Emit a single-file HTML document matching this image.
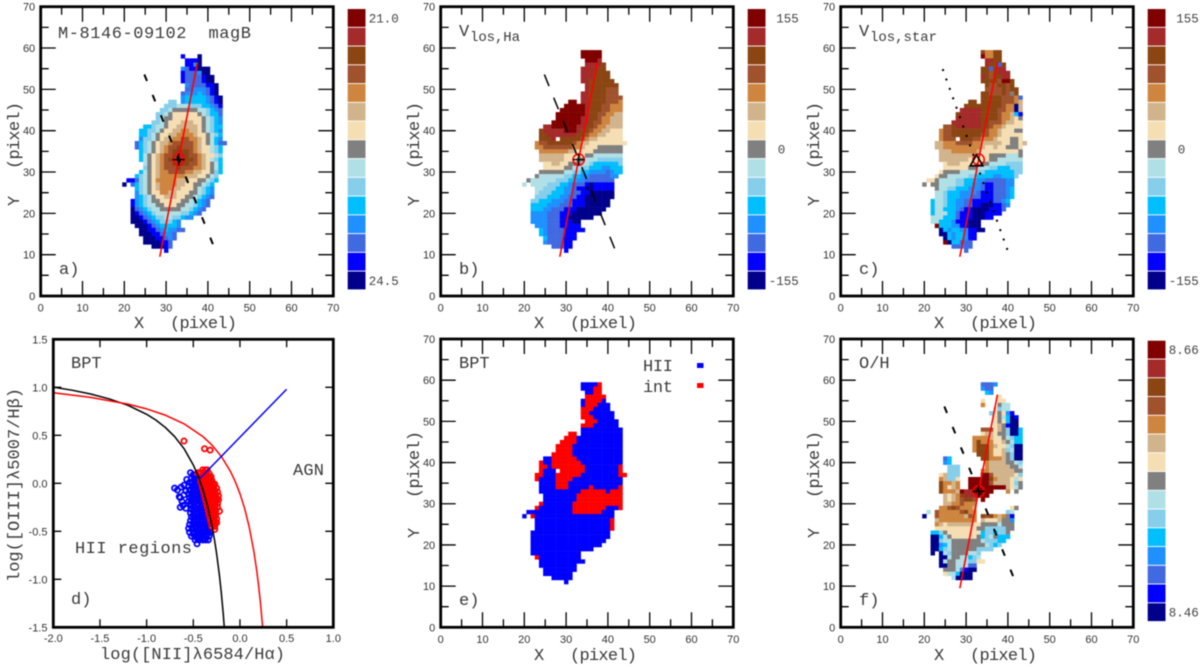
<!DOCTYPE html>
<html lang="en">
<head>
<meta charset="utf-8">
<title>M-8146-09102 maps</title>
<style>
html,body{margin:0;padding:0;background:#fff;width:1200px;height:667px;overflow:hidden}
svg{display:block;filter:blur(0.45px)}
.tick{font-family:"Liberation Sans",sans-serif;font-size:11px;fill:#333}
.mono{font-family:"Liberation Mono",monospace;font-size:17px;fill:#3a3a3a;white-space:pre}
.cbl{font-family:"Liberation Mono",monospace;font-size:12.5px;fill:#444;white-space:pre}
.sub{font-family:"Liberation Mono",monospace;font-size:14px;fill:#3a3a3a}
.greek{font-family:"Liberation Mono","DejaVu Sans Mono",monospace}
</style>
</head>
<body>
<svg id="figure" xmlns="http://www.w3.org/2000/svg" width="1200" height="667" viewBox="0 0 1200 667">
  <rect x="0" y="0" width="1200" height="667" fill="#fff"/>
  <g id="marks"></g>
  <g id="frames"></g>

  <text class="mono" x="58" y="38" textLength="193">M-8146-09102  magB</text>
  <text class="mono" x="59" y="274">a)</text>
  <text class="mono" x="134" y="328">X</text>
  <text class="mono" x="170" y="328" textLength="67">(pixel)</text>
  <text class="mono" transform="translate(19,206) rotate(-90)">Y</text>
  <text class="mono" transform="translate(19,169) rotate(-90)" textLength="67">(pixel)</text>

  <text class="mono" x="459" y="36">V</text>
  <text class="sub" x="470" y="41" textLength="50">los,Ha</text>
  <text class="mono" x="459" y="274">b)</text>
  <text class="mono" x="534" y="328">X</text>
  <text class="mono" x="570" y="328" textLength="67">(pixel)</text>
  <text class="mono" transform="translate(419,206) rotate(-90)">Y</text>
  <text class="mono" transform="translate(419,169) rotate(-90)" textLength="67">(pixel)</text>

  <text class="mono" x="859" y="36">V</text>
  <text class="sub" x="870" y="41" textLength="67">los,star</text>
  <text class="mono" x="859" y="274">c)</text>
  <text class="mono" x="934" y="328">X</text>
  <text class="mono" x="970" y="328" textLength="67">(pixel)</text>
  <text class="mono" transform="translate(819,206) rotate(-90)">Y</text>
  <text class="mono" transform="translate(819,169) rotate(-90)" textLength="67">(pixel)</text>

  <text class="mono" x="71" y="368">BPT</text>
  <text class="mono" x="293" y="475" textLength="31">AGN</text>
  <text class="mono" x="75" y="553" textLength="117">HII regions</text>
  <text class="mono" x="71" y="604">d)</text>
  <text class="mono greek" x="100" y="659" textLength="185">log([NII]λ6584/Hα)</text>
  <text class="mono greek" transform="translate(19,582) rotate(-90)" textLength="194">log([OIII]λ5007/Hβ)</text>

  <text class="mono" x="459" y="368">BPT</text>
  <text class="mono" x="643" y="371" textLength="30">HII</text>
  <text class="mono" x="643" y="392" textLength="30">int</text>
  <rect x="697" y="363" width="6.5" height="5" fill="#0000ff"/>
  <rect x="697" y="383" width="6.5" height="5" fill="#ff0000"/>
  <text class="mono" x="459" y="605">e)</text>
  <text class="mono" x="534" y="660">X</text>
  <text class="mono" x="570" y="660" textLength="67">(pixel)</text>
  <text class="mono" transform="translate(419,538) rotate(-90)">Y</text>
  <text class="mono" transform="translate(419,498) rotate(-90)" textLength="67">(pixel)</text>

  <text class="mono" x="859" y="368">O/H</text>
  <text class="mono" x="859" y="605">f)</text>
  <text class="mono" x="934" y="660">X</text>
  <text class="mono" x="970" y="660" textLength="67">(pixel)</text>
  <text class="mono" transform="translate(819,538) rotate(-90)">Y</text>
  <text class="mono" transform="translate(819,498) rotate(-90)" textLength="67">(pixel)</text>
</svg>

<script>
// ---- colour levels (a = top of colour bar, o = bottom) ----
const levelCodes = "abcdefghijklmno";
const levelColors = ["#800000","#a52a2a","#8b4513","#a0522d","#cd853f","#d2b48c","#f5deb3","#808080","#b0e0e6","#87ceeb","#00bfff","#1e90ff","#4169e1","#0000ff","#00008b"];

// ---- map data: [map y, first map x, level code per cell ('.' = empty)] ----
const magBRows = [
[58,34,"n...o"],[57,35,"nnno"],[56,35,"nnlo"],[55,34,"lmnnooo"],[54,34,"nmmmloo"],[53,34,"nmmmmnoo"],[52,34,"nmmmmnoo"],
[51,35,"lmmmmnno"],[50,35,"mmlllmno"],[49,34,"mlllklmno"],[48,34,"lkkkkklmno"],[47,31,"jj.lkkkkklmno"],[46,30,"jjjiiijjjkklmn"],
[45,29,"jjihhhhhhiijklm"],[44,28,"jjihgggggghijkkm"],[43,28,"jihhggggggghijkl"],[42,27,"jjihgggfffgghijkl"],[41,25,"kkjiihggfffffghijkk"],
[40,24,"kkjjihggffeeffghijkl"],[39,24,"kkjihggffeeeefgghijk"],[38,24,"ljjihgffeeddeefghikl"],[37,23,"mkjihgffedddddefghikmm"],
[36,23,"mkjihgfeddcdddefggijk"],[35,24,"kjihgfedcbccdefggijk"],[34,24,"kihgfeddcbbcddefggij"],[33,24,"kihgfedccabccdefgijk"],
[32,25,"ihgfeddcbccddefghik"],[31,25,"jhgfedddcdddeefghik"],[30,24,"kihgfeeddddeeffgghjk"],[29,23,"kjihgfeeeeeefffgghij"],
[28,21,"nnmjihgeeeeefffgghhijk"],[27,20,"o.mkjihgfeeeeffgghhijk"],[26,23,"kjihgfeeeffggghijkl"],[25,23,"ljihggeeffggghhijkl"],
[24,23,"lkjihggfffgghhijklm"],[23,22,"nlkjihhggggghhijklm"],[22,22,"nlkjiihhggghhiijklm"],[21,22,"omlkjiihhhhhiijklm"],
[20,22,"onmlkjiiiiiijjklm"],[19,22,"oonmlkjjiijjkll"],[18,22,"ooonmlkjjjkl"],[17,23,"ooonmlkkkkl"],[16,24,"oonnmlkllmm"],
[15,24,"ooonnmllm"],[14,25,"ooonnmlm"],[13,25,"oooonnm"],[12,27,"ooonm"],[11,30,"n"]
];
const velGasRows = [
[59,34,"aaaaa"],[58,34,"aaaaa"],[57,35,"aaab"],[56,35,"bbbbc"],[55,34,"bbbbcc"],[54,34,"bbbcccc"],[53,34,"bbbcccc"],[52,34,"bbcccccc"],
[51,35,"bccccccc"],[50,35,"bccccddd"],[49,34,"bbccccddd"],[48,34,"bbccccdddd"],[47,31,"aa.bbccccddde"],[46,30,"aaaaabcccddeee"],
[45,29,"aaaaaabcccddeee"],[44,28,"aaaaaaabccddeeff"],[43,28,"aaaaaabbccdeefff"],[42,27,"aaaaaaabbcddeefff"],[41,25,"bbaaaaaabbccdeeffff"],
[40,24,"cbbbbbaaabccdeeffggg"],[39,24,"ccbbbbbbbccdeeffgggg"],[38,24,"cccb.cccccdeffgggggg"],[37,23,"eddccccccdeffggggggggg"],
[36,23,"eedddddddeefggghhhhhh"],[35,24,"eeeeeeeffgggghhhhhhh"],[34,24,"ffffffggggghhiiiiiii"],[33,24,"ffffffggghhiiijjjjjj"],
[32,25,"ggffgghhhiijkkkkkkj"],[31,25,"ggggghhiijjkkkllkkk"],[30,24,"hhhhhhiijjkkllllmlkk"],[29,23,"hiiiiiijjkkllmmmmmll"],
[28,21,"hiiiiiijjjkkllmmmmmmm"],[27,20,"i.iiiijjjkklmmmnonnnnn"],[26,23,"iijjjkkllmnnoonnnnn"],[25,23,"ijjjkkkllmmnnoooooo"],
[24,23,"jjjkkkllmmnnooooooo"],[23,22,"jjkkklllmmnnnoooooo"],[22,22,"kkkklllmmmnnnoooooo"],[21,22,"kkkllmmmnnnooooooo"],
[20,22,"llllmmmnnnooooooo"],[19,22,"llllmmmnnoooooo"],[18,22,"llllmmmnnnoo"],[17,23,"lllmmmnnnnn"],[16,24,"klmmmmnnnnn"],
[15,24,"klmmmmnnn"],[14,25,"kmmmmnnn"],[13,25,"lmmmmnn"],[12,27,"mmmnn"],[11,30,"n"]
];
const velStarRows = [
[59,34,"ceecc"],[58,34,"aeecc"],[57,35,"bbcc"],[56,35,"bccmc"],[55,34,"ccmcbb"],[54,34,"ccdcbbb"],[53,34,"bcdccbb"],[52,34,"ccccdaac"],
[51,35,"cddccdc"],[50,35,"ddddcdcc"],[49,34,"ccdddcdhc"],[48,34,"cccccdddem"],[47,31,"cc.cccccdddef"],[46,30,"cccccccccdeeof"],
[45,29,"bbbbbccccddeeof"],[44,28,"cbbbbbccccdeefkn"],[43,28,"bbbbbbccccdeefgh"],[42,27,"bbbbbbbccdddeffgg"],[41,25,"ddcbbbbbbccdeefgggg"],
[40,24,"eddccccccccdeefggghh"],[39,24,"eddcccccccddeefggggg"],[38,24,"eddd.cccddeeefggghhg"],[37,23,"ffeeeddddeefffffgghhgf"],
[36,23,"ffeeeeeeeeefggfgghhhg"],[35,24,"fffeeeeeefgggggggggh"],[34,24,"fffffffffggghhhhiiih"],[33,24,"fffffffggggghhiiiiii"],
[32,25,"gfffggggghhiiiijjjj"],[31,25,"gggggghhiiijjkkkjjj"],[30,24,"ghhhhiiiijjkkkkkkkjj"],[29,23,"ghhiiiiijjkkkkllkkkj"],
[28,21,"gghiiiijjkkkllmmmmmll"],[27,20,"h.hhiiiijjkkllmnnmmmll"],[26,23,"hiijjkkklllmnnmmmlk"],[25,23,"iijkkkllllmnnnmmmlk"],
[24,23,"iijkkklllmmnnnmmmlk"],[23,22,"kiijkkllmmnnnnnmmlk"],[22,22,"kiijkkllmmnnooonnml"],[21,22,"kiikkklmnnoooonnnm"],
[20,22,"kiiikkmnnnooonnnn"],[19,22,"iiikkkmnnnooonn"],[18,22,"iikkklnnnooo"],[17,23,"akkkllnnooo"],[16,24,"oklkkllnnoo"],
[15,24,"ooklkklnn"],[14,25,"oklkklnn"],[13,25,"aokkmmm"],[12,27,"mmlmm"],[11,30,"m"]
];
const oxygenRows = [
[59,34,"mmml"],[58,34,"lmm"],[57,35,"kl"],[56,38,"g"],[55,34,"g...gg"],[54,34,"e...hii"],[53,37,"gjii"],[52,36,"jghgln"],[51,37,"ghikon"],
[50,37,"ghgkoo"],[49,37,"gfhnoo"],[48,34,"dddgfhjook"],[47,34,"gffghhjook"],[46,32,"eeeefgghijkk"],[45,32,"eceeeggfhikk"],[44,32,"ecccefggijoo"],
[43,32,"eccceggfjioo"],[42,33,"ccceggfhjoo"],[41,25,"mk.......cceeefhjoo"],[40,25,"lk........effffhhij"],[39,26,"jjj......efffffhhi"],
[38,26,"jjj.....eeffffffhh"],[37,24,"gfjjj.....aadfffffgj"],[36,24,"efjjg..aaaaacefffgig"],[35,24,"ceefe..aaaaadffffgjh"],[34,24,"cegfe..aaaaaaaaafgih"],
[33,24,"ceeefabbaaaaa...e.h"],[32,25,"fgfecbbbaaa"],[31,25,"fgfedccd.a"],[30,25,"ffeedeee"],[29,24,"eedcdeeef........gh"],[28,21,"i.deeeeedcee.......ji"],
[27,20,"o..deeeeeefde.cdcefehn"],[26,23,"feeeeeeeee.fgggfhhl"],[25,23,"efgffffffgghhhhihhh"],[24,23,"gggggggggghhjjjjjhh"],[23,22,"kkjhggggggggkjjkjjh"],
[22,22,"ookihgggggghkjihkkk"],[21,22,"oojiihhhhhhhijjjkk"],[20,22,"oolkihhhhhhhhijkj"],[19,22,"ookjihhhhhhjjjj"],[18,22,"o.oijhhhhiij"],
[17,24,"ooihhiikji"],[16,24,"oihhiiijjgg"],[15,24,"oohhiiimm"],[14,25,"hhhilnoo"],[13,25,"giikooo"],[12,27,"ioooo"]
];
// B = HII, R = intermediate
const bptClassRows = [
[59,34,"BBBBR"],[58,34,"BBBRR"],[57,35,"BBRR"],[56,35,"RRRRR"],[55,34,"BRRRRB"],[54,34,"BRRRBBB"],[53,34,"RRRBBBB"],[52,34,"RRBBBBBB"],[51,34,"RRRBBBBB"],
[50,35,"RRRBBBBB"],[49,34,"RRRBBBBBB"],[48,34,"BBBBBBBBBB"],[47,31,"RR.BBBBBBBBBB"],[46,30,"RRRBBBBBBBBBBB"],[45,29,"RRRRBBBBBBBBBBB"],
[44,28,"RRRRBBBBBBBBBBBB"],[43,28,"RRRRBBBBBBBBBBBB"],[42,27,"RRRRRBBBBBBBBBBBB"],[41,25,"BBRRRRRRBBBBBBBBBBB"],[40,24,"RBBRRRRRRRBBBBBBBBBB"],
[39,24,"RRBRRRRRRRRBBBBBBBBR"],[38,24,"RBBB.RRRRRRBBBBBBBBR"],[37,23,"RRBBBRRRRRRBBBBBBBBBRR"],[36,23,"RBBBBRRRRBBBBBBBBBBBB"],[35,24,"BBBBRRRBBBBBBBBBBBBB"],
[34,24,"BBBBRRRBBBBBRBBBBBBR"],[33,24,"BBBBBBBBBBRRRRRRBRRR"],[32,25,"BBBBBBBBRRRRRRRRRRR"],[31,25,"BBBBBBBBRRRRRRRRRRR"],[30,24,"RBBBBBBBRRRRRRRRRRRR"],
[29,23,"RBBBBBBBBRRRRRRRRBBBR"],[28,21,"BBBBBBBBBBBRRRRRRRBBB"],[27,20,"B.RBBBBBBBBBBBBBBBBBBB"],[26,23,"BBBBBBBBBBBBBBBBBBR"],[25,23,"BBBBBBBBBBBBBBBBBBR"],
[24,23,"BBBBBBBBBBBBBBBBBBR"],[23,22,"BBBBBBBBBBBBBBBBBBB"],[22,22,"BBBBBBBBBBBBBBBBBBB"],[21,22,"BBBBBBBBBBBBBBBBBB"],[20,22,"BBBBBBBBBBBBBBBBB"],
[19,22,"BBBBBBBBBBBBBBB"],[18,22,"BBBBBBBBBBBB"],[17,23,"RBBBBBBBBBB"],[16,24,"BBBBBBBBBBB"],[15,24,"BBBBBBBBB"],[14,25,"BBBBBBBB"],[13,25,"BBBBBBB"],[12,27,"BBBBB"],[11,30,"B"]
];
const bptClassCodes = "BR";
const bptClassColors = ["#0000ff","#ff0000"];

// ---- BPT diagram data ----
const hiiPoints = [
[-0.70,-0.05],[-0.67,-0.07],[-0.65,-0.14],[-0.64,-0.15],[-0.63,-0.04],[-0.64,-0.25],[-0.60,-0.02],[-0.60,-0.12],[-0.62,-0.19],[-0.57,0.04],[-0.53,0.11],[-0.58,-0.26],[-0.61,-0.23],[-0.58,-0.08],
[-0.50,0.09],[-0.47,0.09],[-0.52,0.05],[-0.49,0.05],[-0.45,0.05],[-0.54,0.01],[-0.51,0.01],[-0.47,0.01],[-0.44,0.01],
[-0.55,-0.03],[-0.51,-0.03],[-0.47,-0.03],[-0.43,-0.03],[-0.54,-0.07],[-0.50,-0.07],[-0.46,-0.07],[-0.42,-0.07],
[-0.55,-0.11],[-0.51,-0.11],[-0.47,-0.11],[-0.43,-0.11],[-0.40,-0.11],[-0.54,-0.15],[-0.50,-0.15],[-0.46,-0.15],[-0.42,-0.15],[-0.39,-0.15],
[-0.55,-0.19],[-0.51,-0.19],[-0.47,-0.19],[-0.43,-0.19],[-0.39,-0.19],[-0.53,-0.23],[-0.49,-0.23],[-0.45,-0.23],[-0.41,-0.23],[-0.37,-0.23],
[-0.52,-0.27],[-0.48,-0.27],[-0.44,-0.27],[-0.40,-0.27],[-0.36,-0.27],[-0.53,-0.31],[-0.49,-0.31],[-0.45,-0.31],[-0.41,-0.31],[-0.37,-0.31],[-0.35,-0.31],
[-0.52,-0.35],[-0.48,-0.35],[-0.44,-0.35],[-0.40,-0.35],[-0.36,-0.35],[-0.53,-0.39],[-0.49,-0.39],[-0.45,-0.39],[-0.41,-0.39],[-0.37,-0.39],[-0.34,-0.39],
[-0.54,-0.43],[-0.50,-0.43],[-0.46,-0.43],[-0.42,-0.43],[-0.38,-0.43],[-0.34,-0.43],[-0.55,-0.47],[-0.51,-0.47],[-0.47,-0.47],[-0.43,-0.47],[-0.39,-0.47],[-0.35,-0.47],[-0.32,-0.47],
[-0.54,-0.51],[-0.50,-0.51],[-0.46,-0.51],[-0.42,-0.51],[-0.38,-0.51],[-0.34,-0.51],[-0.32,-0.51],[-0.52,-0.55],[-0.48,-0.55],[-0.44,-0.55],[-0.40,-0.55],[-0.36,-0.55],[-0.33,-0.55],
[-0.48,-0.59],[-0.44,-0.59],[-0.40,-0.59],[-0.37,-0.59],[-0.34,-0.59],[-0.46,-0.63],
[-0.49,0.03],[-0.45,-0.01],[-0.49,-0.05],[-0.45,-0.09],[-0.52,-0.13],[-0.48,-0.13],[-0.44,-0.13],[-0.41,-0.17],[-0.49,-0.17],[-0.53,-0.21],[-0.45,-0.21],
[-0.50,-0.25],[-0.42,-0.25],[-0.46,-0.29],[-0.38,-0.29],[-0.50,-0.33],[-0.42,-0.33],[-0.46,-0.37],[-0.38,-0.37],[-0.50,-0.41],[-0.42,-0.41],[-0.36,-0.41],
[-0.48,-0.45],[-0.40,-0.45],[-0.44,-0.49],[-0.36,-0.49],[-0.50,-0.53],[-0.42,-0.53],[-0.35,-0.53],[-0.46,-0.57],[-0.38,-0.57]
];
const intPoints = [
[-0.60,0.44],[-0.38,0.36],[-0.32,0.345],
[-0.40,0.14],[-0.37,0.14],[-0.35,0.14],[-0.45,0.11],[-0.42,0.11],[-0.39,0.11],[-0.36,0.11],[-0.33,0.10],
[-0.42,0.07],[-0.38,0.07],[-0.34,0.07],[-0.31,0.07],[-0.42,0.03],[-0.38,0.03],[-0.34,0.03],[-0.30,0.03],
[-0.41,-0.01],[-0.37,-0.01],[-0.33,-0.01],[-0.29,-0.01],[-0.27,-0.01],[-0.40,-0.05],[-0.36,-0.05],[-0.32,-0.05],[-0.28,-0.05],[-0.25,-0.05],
[-0.39,-0.09],[-0.35,-0.09],[-0.31,-0.09],[-0.27,-0.09],[-0.24,-0.09],[-0.38,-0.13],[-0.34,-0.13],[-0.30,-0.13],[-0.26,-0.13],[-0.23,-0.13],
[-0.37,-0.17],[-0.33,-0.17],[-0.29,-0.17],[-0.25,-0.17],[-0.23,-0.17],[-0.36,-0.21],[-0.32,-0.21],[-0.28,-0.21],[-0.24,-0.21],
[-0.35,-0.25],[-0.31,-0.25],[-0.27,-0.25],[-0.24,-0.25],[-0.34,-0.29],[-0.30,-0.29],[-0.26,-0.29],[-0.22,-0.29],
[-0.33,-0.33],[-0.29,-0.33],[-0.26,-0.33],[-0.32,-0.37],[-0.28,-0.37],[-0.25,-0.37],[-0.31,-0.41],[-0.27,-0.41],[-0.25,-0.41],
[-0.30,-0.45],[-0.27,-0.45],[-0.27,-0.48],
[-0.40,0.05],[-0.36,0.05],[-0.32,0.05],[-0.39,0.01],[-0.35,0.01],[-0.31,0.01],[-0.38,-0.03],[-0.34,-0.03],[-0.30,-0.03],[-0.37,-0.07],[-0.33,-0.07],[-0.29,-0.07],
[-0.36,-0.11],[-0.32,-0.11],[-0.28,-0.11],[-0.35,-0.15],[-0.31,-0.15],[-0.27,-0.15],[-0.34,-0.19],[-0.30,-0.19],[-0.26,-0.19],[-0.33,-0.23],[-0.29,-0.23],
[-0.32,-0.27],[-0.28,-0.27],[-0.31,-0.31],[-0.27,-0.31],[-0.30,-0.35],[-0.27,-0.35],[-0.29,-0.39],[-0.28,-0.43]
];
const kauffmannX = [-2,-1.8,-1.6,-1.4,-1.2,-1,-0.9,-0.8,-0.7,-0.6,-0.5,-0.45,-0.4,-0.35,-0.3,-0.27,-0.25,-0.22,-0.2,-0.18,-0.168];
const kauffmannY = [1.002,0.97,0.93,0.879,0.812,0.719,0.658,0.582,0.487,0.362,0.191,0.08,-0.056,-0.225,-0.443,-0.606,-0.733,-0.959,-1.14,-1.352,-1.5];
const kewleyX = [-2,-1.6,-1.2,-1,-0.8,-0.6,-0.4,-0.3,-0.2,-0.1,-0.05,0,0.05,0.1,0.15,0.18,0.2,0.22,0.243];
const kewleyY = [0.943,0.895,0.825,0.775,0.71,0.62,0.489,0.398,0.28,0.12,0.017,-0.108,-0.262,-0.459,-0.716,-0.913,-1.069,-1.25,-1.5];
const agnLineX = [-0.43,0.5];
const agnLineY = [0.05,0.98];

// ---- map overlay data ----
const majorAxisX = [28.5,37.5];
const majorAxisY = [9.5,56.5];
const minorAxisX = [24.8,42];
const minorAxisY = [53.6,10.5];
const starMinorAxisX = [24.4,40.4];
const starMinorAxisY = [54.9,9.7];
const centreX = [33];
const centreY = [33];
const starCentreX = [32.5];
const starCentreY = [32.7];

// ---- tick labels ----
const mapTicks = [0,10,20,30,40,50,60,70];
const mapMinorTicks = [5,15,25,35,45,55,65];
const bptXTicks = ["-2.0","-1.5","-1.0","-0.5","0.0","0.5","1.0"];
const bptYTicks = ["-1.5","-1.0","-0.5","0.0","0.5","1.0","1.5"];
const colorbarLabelsA = ["21.0","24.5"];
const colorbarLabelsV = ["155","0","-155"];
const colorbarLabelsO = ["8.66","8.46"];

const NS = "http://www.w3.org/2000/svg";
const marks = document.getElementById("marks");
const frames = document.getElementById("frames");

function make(tag, parent, attrs) {
  const el = document.createElementNS(NS, tag);
  for (const k in attrs) el.setAttribute(k, attrs[k]);
  parent.appendChild(el);
  return el;
}
function linear(d0, d1, r0, r1) {
  return function (v) { return r0 + (v - d0) / (d1 - d0) * (r1 - r0); };
}
function mapPanel(key, left, bottom, top) {
  return {
    key: key, left: left, right: left + 292.6, bottom: bottom, top: top,
    x: linear(0, 70, left, left + 292.6),
    y: linear(0, 70, bottom, top)
  };
}
const panelA = mapPanel("a", 40.7, 296, 6.7);
const panelB = mapPanel("b", 440.7, 296, 6.7);
const panelC = mapPanel("c", 840.7, 296, 6.7);
const panelE = mapPanel("e", 440.7, 627.3, 339);
const panelF = mapPanel("f", 840.7, 627.3, 339);
const panelD = {
  key: "d", left: 53.3, right: 333.3, bottom: 627.3, top: 339.3,
  x: linear(-2, 1, 53.3, 333.3),
  y: linear(-1.5, 1.5, 627.3, 339.3)
};

function drawHeatmap(rows, panel, codes, colors) {
  const g = make("g", marks, {});
  
  
  rows.forEach(function (row) {
    const cells = row[2];
    for (let i = 0; i < cells.length; i++) {
      const idx = codes.indexOf(cells[i]);
      if (idx < 0) continue;
      const cx = row[1] + i;
      const x0 = panel.x(cx - 0.5), x1 = panel.x(cx + 0.5);
      const y0 = panel.y(row[0] + 0.5), y1 = panel.y(row[0] - 0.5);
      const r = make("rect", g, { x: x0, y: y0, width: x1 - x0 + 0.25, height: y1 - y0 + 0.25, fill: colors[idx] });
      
      
    }
  });
}
function pointsAttr(xs, ys, panel) {
  return xs.map(function (v, i) { return panel.x(v).toFixed(2) + "," + panel.y(ys[i]).toFixed(2); }).join(" ");
}
function drawAxisLines(panel, minorX, minorY, dash, width) {
  const minor = make("polyline", marks, { points: pointsAttr(minorX, minorY, panel), fill: "none", stroke: "#000", "stroke-width": width, "stroke-dasharray": dash });
  
  
  const major = make("polyline", marks, { points: pointsAttr(majorAxisX, majorAxisY, panel), fill: "none", stroke: "#ff0000", "stroke-width": 1.6 });
  
  
}
function drawCentre(panel, withCross) {
  const cx = panel.x(centreX[0]), cy = panel.y(centreY[0]);
  const c = make("circle", marks, { cx: cx, cy: cy, r: 5.6, fill: "none", stroke: "#ff0000", "stroke-width": 1.5 });
  
  
  if (withCross) {
    const p = make("path", marks, { d: "M" + (cx - 6) + " " + cy + "H" + (cx + 6) + "M" + cx + " " + (cy - 6) + "V" + (cy + 6), stroke: "#000", "stroke-width": 1.3, fill: "none" });
    
    
  }
}
function drawFrame(panel) {
  const f = make("rect", frames, { x: panel.left, y: panel.top, width: panel.right - panel.left, height: panel.bottom - panel.top, fill: "none", stroke: "#000", "stroke-width": 2.8 });
  
  
}
function tickPath(panel, xs, ys, len) {
  let d = "";
  xs.forEach(function (v) {
    const p = panel.x(v);
    d += "M" + p + " " + panel.bottom + "V" + (panel.bottom - len) + "M" + p + " " + panel.top + "V" + (panel.top + len);
  });
  ys.forEach(function (v) {
    const p = panel.y(v);
    d += "M" + panel.left + " " + p + "H" + (panel.left + len) + "M" + panel.right + " " + p + "H" + (panel.right - len);
  });
  return d;
}
function drawMapAxes(panel) {
  const major = make("path", frames, { d: tickPath(panel, mapTicks, mapTicks, 15), stroke: "#000", "stroke-width": 1.3, fill: "none" });
  
  
  const minor = make("path", frames, { d: tickPath(panel, mapMinorTicks, mapMinorTicks, 8), stroke: "#000", "stroke-width": 1.3, fill: "none" });
  
  
  drawFrame(panel);
  mapTicks.forEach(function (v) {
    const tx = make("text", frames, { class: "tick", x: panel.x(v), y: panel.bottom + 15.5, "text-anchor": "middle" });
    tx.textContent = String(v);
    
    
    const ty = make("text", frames, { class: "tick", x: panel.left - 5.5, y: panel.y(v) + 4, "text-anchor": "end" });
    ty.textContent = String(v);
    
    
  });
}
function drawColorbar(key, left, top, bottom, labels, labelX) {
  const h = (bottom - top) / levelColors.length;
  levelColors.forEach(function (col, i) {
    const r = make("rect", marks, { x: left, y: top + i * h, width: 17.8, height: h - 0.9, fill: col });
    
    
  });
  labels.forEach(function (label, i) {
    const row = labels.length === 3 ? [0, 7, 14][i] : [0, 14][i];
    const t = make("text", marks, { class: "cbl", x: labelX + left + (label.length === 3 ? 28.5 : label.length === 1 ? 30 : 21), y: top + (row + 0.5) * h + 4 });
    t.textContent = label;
    
    
  });
}

// panel a
drawHeatmap(magBRows, panelA, levelCodes, levelColors);
drawAxisLines(panelA, minorAxisX, minorAxisY, "7 15", 2);
drawCentre(panelA, true);
drawMapAxes(panelA);
drawColorbar("a", 347.7, 9, 290.3, colorbarLabelsA, 0);

// panel b
drawHeatmap(velGasRows, panelB, levelCodes, levelColors);
drawAxisLines(panelB, minorAxisX, minorAxisY, "12.5 12.5", 1.5);
drawCentre(panelB, true);
drawMapAxes(panelB);
drawColorbar("b", 747.7, 9, 290.3, colorbarLabelsV, 0);

// panel c
drawHeatmap(velStarRows, panelC, levelCodes, levelColors);
drawAxisLines(panelC, starMinorAxisX, starMinorAxisY, "2 8", 2);
drawCentre(panelC, false);
const triX = panelC.x(starCentreX[0]), triY = panelC.y(starCentreY[0]);
const starTriangle = make("polygon", marks, { points: (triX - 6.3) + "," + (triY + 5) + " " + (triX + 6.3) + "," + (triY + 5) + " " + triX + "," + (triY - 6), fill: "none", stroke: "#000", "stroke-width": 1.6 });


drawMapAxes(panelC);
drawColorbar("c", 1147.7, 9, 290.3, colorbarLabelsV, 0);

// panel d
hiiPoints.forEach(function (p) {
  const c = make("circle", marks, { cx: panelD.x(p[0]), cy: panelD.y(p[1]), r: 2.6, fill: "none", stroke: "#0000ff", "stroke-width": 1.8 });
  
  
});
intPoints.forEach(function (p) {
  const c = make("circle", marks, { cx: panelD.x(p[0]), cy: panelD.y(p[1]), r: 2.6, fill: "none", stroke: "#ff0000", "stroke-width": 1.8 });
  
  
});
const kauffmannLine = make("polyline", marks, { points: pointsAttr(kauffmannX, kauffmannY, panelD), fill: "none", stroke: "#000", "stroke-width": 1.5, "stroke-linejoin": "round" });


const kewleyLine = make("polyline", marks, { points: pointsAttr(kewleyX, kewleyY, panelD), fill: "none", stroke: "#ff0000", "stroke-width": 1.5, "stroke-linejoin": "round" });


const agnLine = make("polyline", marks, { points: pointsAttr(agnLineX, agnLineY, panelD), fill: "none", stroke: "#0000ff", "stroke-width": 1.5 });


const bptTicks = make("path", frames, { d: tickPath(panelD, bptXTicks.map(Number), bptYTicks.map(Number), 8), stroke: "#000", "stroke-width": 1.3, fill: "none" });


drawFrame(panelD);
bptXTicks.forEach(function (label) {
  const t = make("text", frames, { class: "tick", x: panelD.x(Number(label)), y: 642, "text-anchor": "middle" });
  t.textContent = label;
  
  
});
bptYTicks.forEach(function (label) {
  const t = make("text", frames, { class: "tick", x: 47.5, y: panelD.y(Number(label)) + 4, "text-anchor": "end" });
  t.textContent = label;
  
  
});

// panel e
drawHeatmap(bptClassRows, panelE, bptClassCodes, bptClassColors);
drawMapAxes(panelE);

// panel f
drawHeatmap(oxygenRows, panelF, levelCodes, levelColors);
drawAxisLines(panelF, minorAxisX, minorAxisY, "7 15", 2);
drawCentre(panelF, true);
drawMapAxes(panelF);
drawColorbar("f", 1147.7, 340.7, 622, colorbarLabelsO, 0);
</script>
</body>
</html>
